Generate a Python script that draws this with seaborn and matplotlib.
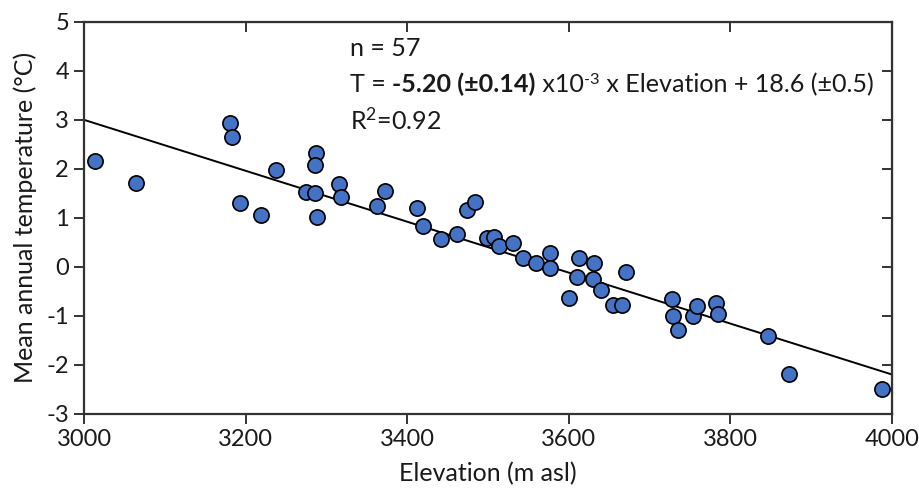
import matplotlib
matplotlib.use('Agg')
import numpy as np
import pandas as pd
import matplotlib.pyplot as plt
import seaborn as sns

# Dados (elevação em m, temperatura média anual em °C)
elevacao = [3013, 3064, 3180, 3183, 3193, 3219, 3237, 3274, 3286, 3287,
            3286, 3288, 3315, 3318, 3362, 3372, 3412, 3419, 3442, 3462,
            3474, 3484, 3499, 3507, 3513, 3531, 3543, 3559, 3576, 3577,
            3600, 3613, 3610, 3631, 3630, 3640, 3655, 3666, 3671, 3728,
            3729, 3735, 3753, 3759, 3782, 3784, 3846, 3872, 3988]
temperatura = [2.16, 1.71, 2.93, 2.65, 1.30, 1.05, 1.98, 1.52, 1.50, 2.32,
               2.07, 1.02, 1.69, 1.42, 1.24, 1.55, 1.21, 0.84, 0.56, 0.67,
               1.17, 1.32, 0.59, 0.61, 0.43, 0.49, 0.19, 0.07, 0.28, -0.03,
               -0.64, 0.17, -0.21, 0.08, -0.25, -0.47, -0.78, -0.78, -0.10, -0.66,
               -1.00, -1.29, -1.00, -0.81, -0.73, -0.96, -1.41, -2.18, -2.50]

# Coeficientes da regressão (do texto do gráfico)
inclinacao = -5.20e-3
intercepto = 18.6

xticks = [3000, 3200, 3400, 3600, 3800, 4000]
yticks = [-3, -2, -1, 0, 1, 2, 3, 4, 5]

df = pd.DataFrame({'Elevacao': elevacao, 'Temp': temperatura})
x_linha = np.array([xticks[0], xticks[-1]])
df_linha = pd.DataFrame({'Elevacao': x_linha, 'Temp': inclinacao * x_linha + intercepto})

sns.set_style('ticks')
plt.rcParams['font.family'] = ['Lato', 'DejaVu Sans']
plt.rcParams['axes.unicode_minus'] = False
plt.rcParams['mathtext.fontset'] = 'custom'
plt.rcParams['mathtext.rm'] = 'Lato'
plt.rcParams['mathtext.it'] = 'Lato:italic'
plt.rcParams['mathtext.bf'] = 'Lato:bold'

fig = plt.figure(figsize=(9.2, 5), dpi=100)
ax = fig.add_axes([0.0916, 0.1726, 0.878, 0.7834])

cor_eixo = '#333333'
cor_texto = '#1a1a1a'
sns.lineplot(x='Elevacao', y='Temp', data=df_linha, color='black', linewidth=1.4, ax=ax, zorder=2)
sns.scatterplot(x='Elevacao', y='Temp', data=df, color='#4472C4', edgecolor='black',
                linewidth=1.2, s=120, ax=ax, zorder=3)

ax.set_xlim(3000, 4000)
ax.set_ylim(-3, 5)
ax.set_xticks(xticks)
ax.set_yticks(yticks)
ax.tick_params(direction='out', length=7, width=1.4, color=cor_eixo,
               labelsize=17, labelcolor=cor_texto, pad=4)
for s in ax.spines.values():
    s.set_visible(True)
    s.set_color(cor_eixo)
    s.set_linewidth(1.6)

# Eixos secundários com marcas para dentro
topo = ax.secondary_xaxis('top')
topo.set_xticks(xticks)
topo.tick_params(direction='in', length=7, width=1.4, color=cor_eixo, labeltop=False)
direita = ax.secondary_yaxis('right')
direita.set_yticks(yticks)
direita.tick_params(direction='in', length=7, width=1.4, color=cor_eixo, labelright=False)

ax.set_xlabel('Elevation (m asl)', fontsize=18, color=cor_texto, labelpad=9)
ax.set_ylabel('Mean annual temperature (°C)', fontsize=18, color=cor_texto, labelpad=7)

tam = 18.1
ax.text(0.329, 0.932, 'n = 57', transform=ax.transAxes, fontsize=tam, va='center', color=cor_texto)

# Equação em partes (parte em negrito + expoente)
t1 = ax.text(0.329, 0.840, 'T = ', transform=ax.transAxes, fontsize=tam, va='center', color=cor_texto)
t2 = ax.annotate('-5.20 (±0.14)', xy=(1, 0), xycoords=t1, va='bottom', fontsize=tam,
                 fontweight='bold', color=cor_texto)
t3 = ax.annotate(' x10', xy=(1, 0), xycoords=t2, va='bottom', fontsize=tam, color=cor_texto)
t4 = ax.annotate('-3', xy=(1, 1), xycoords=t3, va='top', fontsize=tam * 0.65,
                 xytext=(0.5, 0), textcoords='offset points', color=cor_texto)
t5 = ax.annotate(' x Elevation + 18.6 (±0.5)', xy=(1, 0), xycoords=(t4, t3), va='bottom',
                 fontsize=tam, color=cor_texto)

ax.text(0.329, 0.750, r'R$^{2}$=0.92', transform=ax.transAxes, fontsize=tam, va='center', color=cor_texto)

plt.savefig('out.png', dpi=100)
